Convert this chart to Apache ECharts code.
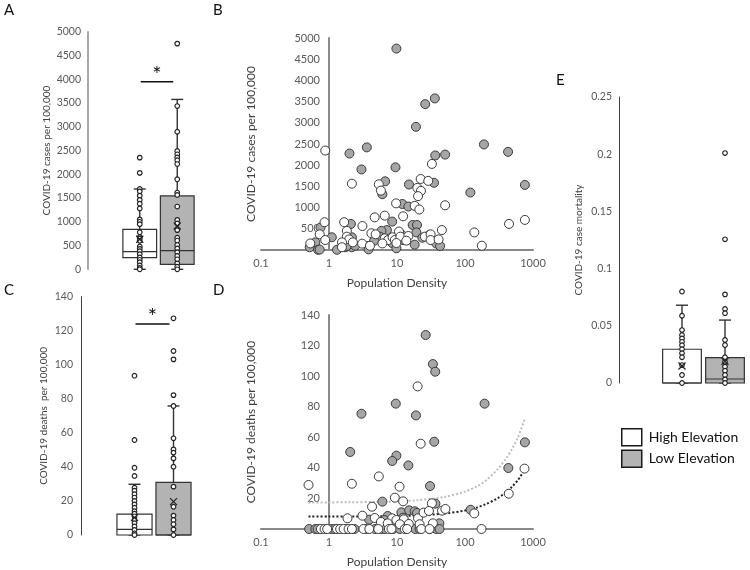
<!DOCTYPE html>
<html><head><meta charset="utf-8">
<script src="https://cdn.jsdelivr.net/npm/echarts@6/dist/echarts.min.js"></script>
<style>html,body{margin:0;padding:0;background:#fff}#c{width:750px;height:570px}</style>
</head><body><div id="c"></div>
<script>
// ---------- DATA ----------
const groups = ['High Elevation', 'Low Elevation'];
// Panel A: cases per 100,000 (box: min, Q1, median, Q3, max)
const aHighBox = [0, 245, 372, 841, 1690];
const aLowBox = [0, 105, 393, 1545, 3575];
const aMeans = [631, 911];
const aHighPts = [2350, 2030, 1690, 1640, 1550, 1460, 1380, 1280, 1050, 1000, 950, 780, 680, 650, 600, 480, 430, 380, 320, 250, 200, 150, 80, 30, 0];
const aLowPts = [4750, 3435, 2895, 2490, 2420, 2355, 2295, 2215, 1895, 1615, 1565, 1320, 1040, 965, 825, 665, 605, 510, 440, 360, 280, 210, 125, 55, 0];
const aSig = [3948];
// Panel C: deaths per 100,000
const cHighBox = [0, 0, 3.3, 12.3, 29.8];
const cLowBox = [0, 0, 0, 30.9, 75.8];
const cMeans = [10.2, 19.6];
const cHighPts = [93.6, 55.8, 39.5, 34.7, 27.8, 26, 24, 22, 20, 18, 16, 14, 12.5, 11, 9, 7, 5, 3, 1, 0];
const cLowPts = [127.3, 108.1, 103.2, 82.2, 75.8, 56.8, 50.3, 48.4, 45, 40.1, 28.4, 16.6, 11.4, 8.8, 6.3, 3.3, 0];
const cSig = [124];
// Panel E: case mortality
const eHighBox = [0, 0, 0, 0.0295, 0.068];
const eLowBox = [0, 0, 0.0035, 0.0221, 0.055];
const eMeans = [0.0149, 0.019];
const eHighPts = [0.080, 0.0588, 0.0463, 0.042, 0.039, 0.036, 0.033, 0.0295, 0.026, 0.0225, 0.0157, 0.007, 0];
const eLowPts = [0.201, 0.1256, 0.0775, 0.0647, 0.061, 0.0376, 0.0332, 0.0225, 0.0186, 0.0143, 0.0108, 0.007, 0.0032, 0];
// Panel B: population density vs cases
const bHigh = [[0.88,2345],[2.17,1565],[5.4,1550],[5.8,1400],[32.6,2030],[22.3,1675],[28.8,1630],[19.9,1465],[22.5,1395],[20.4,1270],[9.7,1100],[18.2,1040],[21.3,955],[51,1055],[6.6,810],[4.7,770],[12.3,795],[0.86,655],[1.67,655],[3.1,565],[0.73,370],[0.88,235],[1.83,450],[1.83,315],[1.98,250],[2.24,180],[1.55,180],[0.53,155],[1.55,65],[3.07,150],[4.2,395],[4.85,370],[6.6,275],[7.4,235],[8.6,300],[9.3,235],[10.7,435],[11.2,315],[14.7,330],[13.7,220],[25.7,315],[31.2,370],[31.2,235],[40.9,250],[45.7,470],[9.8,165],[6.1,155],[4.0,100],[137,415],[177,100],[444,615],[760,710]];
const bLow = [[9.8,4750],[36,3575],[26,3440],[19,2905],[190,2490],[430,2315],[3.6,2420],[2.0,2275],[36.5,2230],[51,2250],[3.0,1900],[9.5,1950],[6.7,1620],[6.1,1315],[15,1545],[35,1585],[120,1355],[760,1535],[12,1085],[14.7,1025],[8.5,670],[17,590],[19.7,590],[7.1,470],[5.9,450],[5.6,315],[4.6,215],[19.3,415],[11.6,370],[12.3,235],[23.6,290],[30,355],[33.7,230],[37.7,155],[43,95],[18.2,125],[8.5,165],[9.8,40],[2.1,615],[2.17,300],[2.17,65],[1.1,300],[0.75,530],[0.63,180],[0.52,65],[0.69,5],[0.73,10],[1.31,5],[1.73,65],[1.83,95],[2.42,100],[3.8,95],[3.82,15]];
// Panel D: population density vs deaths
const dHigh = [[20.1,93.3],[22.3,55.8],[5.4,34.4],[0.5,28.8],[2.17,29.6],[10.9,27.7],[9.3,20.5],[12.3,18.1],[440,23.1],[750,39.5],[4.3,14.6],[32.6,16.8],[1.87,7],[3.1,8.7],[4.7,7.2],[5.8,4.6],[8.5,7],[9.8,5.9],[12.6,6.3],[20.4,7],[24.6,10.7],[29.5,11.8],[46,12],[51.5,13.1],[137,10.2],[14.9,3.3],[33.7,3.7],[21.5,3.1],[11,3.1],[7.3,3.7],[0.76,0],[0.86,0],[0.94,0],[1.31,0],[1.46,0],[1.64,0],[1.94,0],[2.17,0],[3.21,0],[3.92,0],[5.31,0],[7.6,0],[8.3,0],[13,0],[14.1,0],[22.8,0],[30.1,0],[175,0]];
const dLow = [[26.4,126.9],[33.7,107.9],[36.5,102.9],[9.6,82],[194,82],[3.0,75.4],[19,74.3],[35.3,57.1],[760,56.7],[2.05,50.4],[9.8,48],[8.5,44.5],[14.7,41.6],[434,39.9],[30.6,28.1],[6.1,17.9],[36.7,16.6],[11.6,10.9],[15.1,12.2],[18.2,11.6],[19.7,10.5],[121,12.6],[3.9,6.1],[7.3,8.5],[6.5,5.9],[12.3,7.4],[42,3.7],[0.51,0],[0.63,0],[0.68,0],[1.08,0],[1.21,0],[1.79,0],[2.37,0],[3.59,0],[4.75,0],[5.94,0],[6.64,0],[8.79,0],[11,0],[18.6,0],[21.5,0],[30.1,0],[37.7,0],[42.2,0]];
// Trendlines in D
const trendX = [0.5, 1, 2, 5, 10, 20, 50, 100, 150, 200, 300, 400, 500, 600, 750];
const trendLowY = [17.4, 17.4, 17.5, 17.7, 18.1, 18.8, 21, 24.5, 28, 31.5, 39, 46, 53, 60, 71.5];
const trendHighY = [8.1, 8.1, 8.2, 8.3, 8.5, 8.9, 10.1, 12.1, 14.1, 16.1, 20.1, 24, 28, 32, 38.5];
const yTicksCases = { min: 0, max: 5000, interval: 500 };
const yTicksDeaths = { min: 0, max: 140, interval: 20 };
const yTicksMort = { min: 0, max: 0.25, interval: 0.05 };
const xLog = { min: 0.1, max: 1000 };

// ---------- STYLE ----------
const FONT = 'Lato';
const fills = ['#ffffff', '#b3b3b3'];
const stroke = '#333333';
const labelColor = '#595959';
const titleColor = '#404040';

function renderBox(params, api) {
  const cat = api.value(0);
  const cx = api.coord([cat, 0])[0];
  const bw = api.size([1, 0])[0] * 0.9;
  const y = i => api.coord([cat, api.value(i)])[1];
  const yMin = y(1), yQ1 = y(2), yMed = y(3), yQ3 = y(4), yMax = y(5);
  const cap = 6;
  const ls = { stroke: stroke, lineWidth: 1.4 };
  const fill = fills[params.dataIndex];
  return { type: 'group', children: [
    { type: 'line', shape: { x1: cx, y1: yQ3, x2: cx, y2: yMax }, style: ls },
    { type: 'line', shape: { x1: cx - cap, y1: yMax, x2: cx + cap, y2: yMax }, style: ls },
    { type: 'line', shape: { x1: cx, y1: yQ1, x2: cx, y2: yMin }, style: ls },
    { type: 'line', shape: { x1: cx - cap, y1: yMin, x2: cx + cap, y2: yMin }, style: ls },
    { type: 'rect', shape: { x: cx - bw / 2, y: yQ3, width: bw, height: yQ1 - yQ3 }, style: { fill: fill, stroke: stroke, lineWidth: 1.2 } },
    { type: 'line', shape: { x1: cx - bw / 2, y1: yMed, x2: cx + bw / 2, y2: yMed }, style: { stroke: stroke, lineWidth: 1.2 } }
  ] };
}
function renderMean(params, api) {
  const p = api.coord([api.value(0), api.value(1)]);
  const s = 3.5;
  const ls = { stroke: '#222', lineWidth: 1.3 };
  return { type: 'group', children: [
    { type: 'line', shape: { x1: p[0] - s, y1: p[1] - s, x2: p[0] + s, y2: p[1] + s }, style: ls },
    { type: 'line', shape: { x1: p[0] - s, y1: p[1] + s, x2: p[0] + s, y2: p[1] - s }, style: ls }
  ] };
}
function renderSig(params, api) {
  const yv = api.value(0);
  const c0 = api.coord([0, yv]);
  const c1 = api.coord([1, yv]);
  const x1 = c0[0] + 1, x2 = c1[0] - 4;
  return { type: 'group', children: [
    { type: 'line', shape: { x1: x1, y1: c0[1], x2: x2, y2: c0[1] }, style: { stroke: '#111', lineWidth: 1.6 } },
    { type: 'text', style: { text: '*', x: (x1 + x2) / 2, y: c0[1] + 4, align: 'center', verticalAlign: 'bottom', fontSize: 22, fontFamily: FONT, fill: '#111' } }
  ] };
}

const numFmt = v => String(+(+v).toFixed(4));
const numFmtNoZero = v => (+v === 0 ? '' : String(+(+v).toFixed(4)));

function catX(grid) {
  return { type: 'category', gridIndex: grid, data: groups, show: false };
}
function valY(grid, ticks, offset, name, nameGap, lineColor, lineWidth, fs, nfs, margin, fmt) {
  return {
    type: 'value', gridIndex: grid, min: ticks.min, max: ticks.max, interval: ticks.interval, offset: offset,
    axisLine: { show: true, lineStyle: { color: lineColor, width: lineWidth } },
    axisTick: { show: false }, splitLine: { show: false },
    axisLabel: { color: labelColor, fontSize: fs, fontFamily: FONT, margin: margin, formatter: fmt },
    name: name, nameLocation: 'middle', nameGap: nameGap, nameRotate: 90,
    nameTextStyle: { color: titleColor, fontSize: nfs, fontFamily: FONT }
  };
}
function logX(grid) {
  return {
    type: 'log', gridIndex: grid, logBase: 10, min: xLog.min, max: xLog.max,
    axisLine: { show: true, lineStyle: { color: '#898989', width: 2 } },
    axisTick: { show: false }, splitLine: { show: false },
    axisLabel: { color: labelColor, fontSize: 11, fontFamily: FONT, margin: 8, formatter: v => String(+(+v).toPrecision(3)) },
    name: 'Population Density', nameLocation: 'middle', nameGap: 27,
    nameTextStyle: { color: titleColor, fontSize: 12, fontFamily: FONT }
  };
}
function boxSeries(ax, hb, lb) {
  return { type: 'custom', xAxisIndex: ax, yAxisIndex: ax, renderItem: renderBox, z: 2, silent: true,
    encode: { x: 0, y: [1, 2, 3, 4, 5] },
    data: [[0].concat(hb), [1].concat(lb)] };
}
function ptsSeries(ax, cat, pts) {
  return { type: 'scatter', xAxisIndex: ax, yAxisIndex: ax, symbolSize: 4.6, z: 3, silent: true,
    itemStyle: { color: '#fff', borderColor: '#222', borderWidth: 1.2, opacity: 1 },
    data: pts.map(v => [cat, v]) };
}
function meanSeries(ax, means) {
  return { type: 'custom', xAxisIndex: ax, yAxisIndex: ax, renderItem: renderMean, z: 4, silent: true,
    data: means.map((m, i) => [i, m]) };
}
function sigSeries(ax, sig) {
  return { type: 'custom', xAxisIndex: ax, yAxisIndex: ax, renderItem: renderSig, z: 4, silent: true,
    encode: { y: 0 }, data: sig.map(v => [v]) };
}
function scat(ax, name, data, color) {
  return { type: 'scatter', name: name, xAxisIndex: ax, yAxisIndex: ax, symbolSize: 9, z: 3,
    itemStyle: { color: color, borderColor: '#3a3a3a', borderWidth: 1, opacity: 1 }, data: data };
}

const chart = echarts.init(document.getElementById('c'), null, { renderer: 'canvas' });
const letter = (t, l, tp) => ({ text: t, left: l, top: tp, padding: 0, textStyle: { fontSize: 15, fontWeight: 'normal', color: '#111', fontFamily: FONT } });

chart.setOption({
  animation: false,
  backgroundColor: '#fff',
  title: [letter('A', 4, 3), letter('B', 213, 3), letter('C', 4, 283), letter('D', 213, 283), letter('E', 556, 73)],
  legend: {
    data: [
      { name: groups[0], itemStyle: { color: fills[0] } },
      { name: groups[1], itemStyle: { color: fills[1] } }
    ],
    orient: 'vertical', left: 616, top: 423, itemWidth: 20, itemHeight: 17, itemGap: 3,
    icon: 'rect', selectedMode: false,
    itemStyle: { borderColor: '#1a1a1a', borderWidth: 1.5 },
    textStyle: { fontSize: 14, color: '#111', fontFamily: FONT, padding: [0, 0, 0, 2] }
  },
  grid: [
    { left: 121, top: 31.7, width: 75, height: 237.6 },
    { left: 261, top: 38, width: 272, height: 212 },
    { left: 115, top: 296.7, width: 78, height: 238.3 },
    { left: 261, top: 315, width: 272, height: 214 },
    { left: 660.5, top: 97, width: 86, height: 286 }
  ],
  xAxis: [catX(0), logX(1), catX(2), logX(3), catX(4)],
  yAxis: [
    valY(0, yTicksCases, 33, 'COVID-19 cases per 100,000', 36, '#8c8c8c', 1.5, 10.5, 10, 7, numFmt),
    valY(1, yTicksCases, -68, 'COVID-19 cases per 100,000', 72, '#898989', 2, 11, 12, 9, numFmtNoZero),
    valY(2, yTicksDeaths, 34, 'COVID-19 deaths  per 100,000', 32, '#404040', 1, 10.5, 10, 8, numFmt),
    valY(3, yTicksDeaths, -68, 'COVID-19 deaths per 100,000', 72, '#898989', 2, 11, 12, 9, numFmtNoZero),
    valY(4, yTicksMort, 41.5, 'COVID-19 case mortality', 35, '#404040', 1, 10.5, 10, 7, numFmt)
  ],
  series: [
    boxSeries(0, aHighBox, aLowBox), ptsSeries(0, 0, aHighPts), ptsSeries(0, 1, aLowPts), meanSeries(0, aMeans), sigSeries(0, aSig),
    boxSeries(2, cHighBox, cLowBox), ptsSeries(2, 0, cHighPts), ptsSeries(2, 1, cLowPts), meanSeries(2, cMeans), sigSeries(2, cSig),
    boxSeries(4, eHighBox, eLowBox), ptsSeries(4, 0, eHighPts), ptsSeries(4, 1, eLowPts), meanSeries(4, eMeans),
    scat(1, 'Low Elevation', bLow, '#a6a6a6'),
    scat(1, 'High Elevation', bHigh, '#ffffff'),
    scat(3, 'Low Elevation', dLow, '#a6a6a6'),
    scat(3, 'High Elevation', dHigh, '#ffffff'),
    { type: 'line', xAxisIndex: 3, yAxisIndex: 3, data: trendX.map((x, i) => [x, trendLowY[i]]), smooth: 0.3, showSymbol: false, silent: true, z: 2,
      lineStyle: { color: '#bdbdbd', width: 2, type: [2, 2] } },
    { type: 'line', xAxisIndex: 3, yAxisIndex: 3, data: trendX.map((x, i) => [x, trendHighY[i]]), smooth: 0.3, showSymbol: false, silent: true, z: 2,
      lineStyle: { color: '#1f1f1f', width: 2, type: [2, 2] } }
  ]
});
</script></body></html>
